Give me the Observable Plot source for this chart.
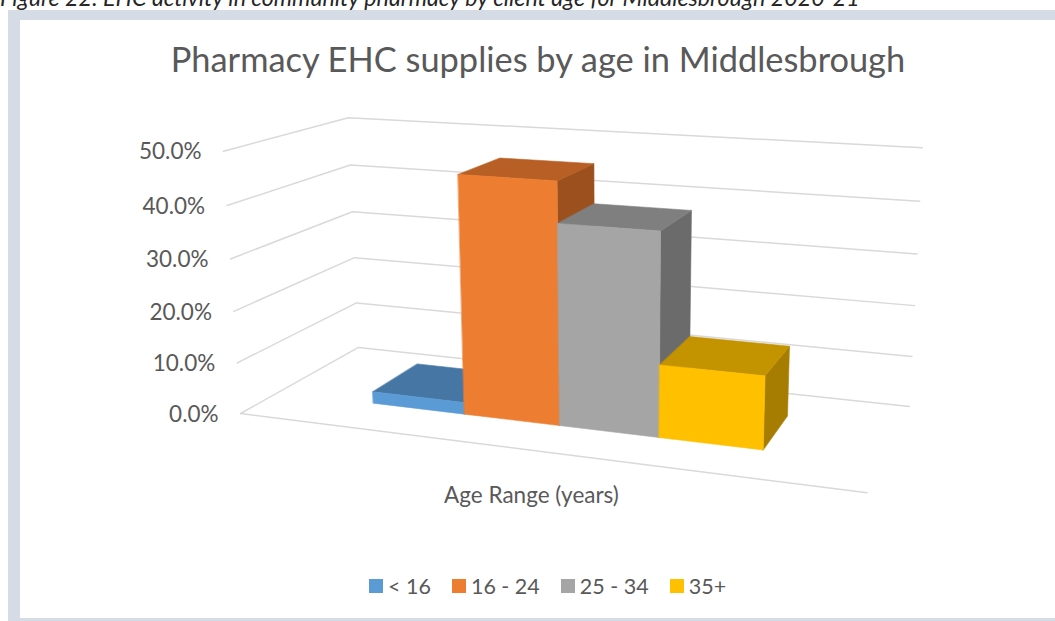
<!DOCTYPE html>
<html>
<head>
<meta charset="utf-8">
<script src="https://cdn.jsdelivr.net/npm/d3@7"></script>
<script src="https://cdn.jsdelivr.net/npm/@observablehq/plot@0.6"></script>
<style>
  body { margin: 0; background: #fff; width: 1055px; height: 621px; overflow: hidden; position: relative; font-family: Lato, "Open Sans", sans-serif; }
  #caption { position: absolute; left: 0; top: -17px; font-style: italic; font-size: 23.2px; line-height: 28px; color: #262626; white-space: nowrap; }
  #frame { position: absolute; left: 8px; top: 10px; width: 1100px; height: 611px; background: #d6dce5; }
  #inner { position: absolute; left: 20px; top: 20px; width: 1100px; height: 598px; background: #fff; }
  #title { position: absolute; left: 20px; width: 1036px; top: 39px; text-align: center; font-size: 34.4px; line-height: 40px; color: #595959; white-space: nowrap; }
  #chart { position: absolute; left: 20px; top: 95px; }
  #legend { position: absolute; left: 369px; top: 572px; height: 28px; display: flex; align-items: center; font-size: 21.5px; color: #595959; white-space: nowrap; }
  .item { display: flex; align-items: center; margin-right: 21px; }
  .sw { width: 14px; height: 14px; margin-right: 5px; }
</style>
</head>
<body>
<div id="caption"></div>
<div id="frame"></div>
<div id="inner"></div>
<div id="title"></div>
<div id="chart"></div>
<div id="legend"></div>
<script>
// ---- data ----
const captionText = "Figure 22: EHC activity in community pharmacy by client age for Middlesbrough 2020-21";
const titleText = "Pharmacy EHC supplies by age in Middlesbrough";
const axisTitle = "Age Range (years)";
const categories = ["< 16", "16 - 24", "25 - 34", "35+"];
const shares = [2.3, 45.8, 38.1, 13.7];           // % of supplies
const tickValues = [0, 10, 20, 30, 40, 50];
const tickLabels = ["0.0%", "10.0%", "20.0%", "30.0%", "40.0%", "50.0%"];

// ---- styles ----
const frontColors = ["#5b9bd5", "#ed7d31", "#a5a5a5", "#ffc000"];
const topColors   = ["#4677a4", "#b75f24", "#7f7f7f", "#c49300"];
const sideColors  = ["#3e6891", "#9c501d", "#6b6b6b", "#a67d00"];

// ---- 3D view (perspective camera) ----
const DEG = Math.PI / 180;
const view = { cx: 618, cy: 276.7, f: 1498, yaw: 19.2 * DEG, pitch: 14.12 * DEG, ox: -2.523, oy: -0.910, oz: 10, unitsPerPct: 1.768 / 50 };
const floorW = 4.195, floorD = 1.613, barW = 0.681, barD = 0.67, barZc = 0.815;
const SW = 1035, SH = 470, L = 20, T = 95;

function project(x, p, z) {
  const y = p * view.unitsPerPct;
  const ca = Math.cos(view.yaw), sa = Math.sin(view.yaw);
  const cb = Math.cos(view.pitch), sb = Math.sin(view.pitch);
  const x1 = x * ca + z * sa, z1 = -x * sa + z * ca;
  const xc = x1 + view.ox;
  const yc = y * cb + z1 * sb + view.oy;
  const zc = -y * sb + z1 * cb + view.oz;
  return [xc / zc, yc / zc];
}

// gridlines on left and back walls + front floor edge
const gridRows = [];
tickValues.forEach(t => {
  [[0, t, 0], [0, t, floorD], [floorW, t, floorD]].forEach(([x, p, z]) => {
    const [px, py] = project(x, p, z);
    gridRows.push({ g: "t" + t, px, py });
  });
});
[[0, 0, 0], [floorW, 0, 0]].forEach(([x, p, z]) => {
  const [px, py] = project(x, p, z);
  gridRows.push({ g: "front", px, py });
});

// bar faces (painter's order: left to right; side, top, front)
const faceRows = [];
const x0All = floorW / 2 - barW * categories.length / 2;
const z0 = barZc - barD / 2, z1 = barZc + barD / 2;
categories.forEach((c, i) => {
  const xa = x0All + i * barW, xb = xa + barW, h = shares[i];
  const faces = [
    ["side", sideColors[i], [[xb, 0, z0], [xb, 0, z1], [xb, h, z1], [xb, h, z0]]],
    ["top", topColors[i], [[xa, h, z0], [xb, h, z0], [xb, h, z1], [xa, h, z1]]],
    ["front", frontColors[i], [[xa, 0, z0], [xb, 0, z0], [xb, h, z0], [xa, h, z0]]]
  ];
  faces.forEach(([name, color, pts]) => {
    pts.forEach(([x, p, z]) => {
      const [px, py] = project(x, p, z);
      faceRows.push({ face: c + "-" + name, color, px, py });
    });
  });
});

const tickRows = tickValues.map((t, i) => {
  const [px, py] = project(0, t, 0);
  return { px, py, label: tickLabels[i] };
});
const [axPx, axPy] = project(floorW / 2, 0, 0);

const chart = Plot.plot({
  width: SW, height: SH, margin: 0,
  x: { type: "linear", domain: [(L - view.cx) / view.f, (L + SW - view.cx) / view.f], range: [0, SW], axis: null },
  y: { type: "linear", domain: [(view.cy - (T + SH)) / view.f, (view.cy - T) / view.f], range: [SH, 0], axis: null },
  style: { background: "transparent", fontFamily: "Lato, 'Open Sans', sans-serif", overflow: "visible" },
  marks: [
    Plot.line(gridRows, { x: "px", y: "py", z: "g", stroke: "#d9d9d9", strokeWidth: 1.5 }),
    Plot.line(faceRows, { x: "px", y: "py", z: "face", fill: "color", stroke: "color", strokeWidth: 0.6, curve: "linear-closed" }),
    Plot.text(tickRows, { x: "px", y: "py", text: "label", textAnchor: "end", dx: -22, dy: 1, fontSize: 22.5, fill: "#595959" }),
    Plot.text([axisTitle], { x: () => axPx, y: () => axPy, text: d => d, dy: 45, fontSize: 22.5, fill: "#595959" })
  ]
});
document.getElementById("chart").appendChild(chart);

document.getElementById("caption").textContent = captionText;
document.getElementById("title").textContent = titleText;
const legend = document.getElementById("legend");
categories.forEach((c, i) => {
  const item = document.createElement("div");
  item.className = "item";
  const sw = document.createElement("div");
  sw.className = "sw";
  sw.style.background = frontColors[i];
  const tx = document.createElement("span");
  tx.textContent = c;
  item.appendChild(sw); item.appendChild(tx);
  legend.appendChild(item);
});
</script>
</body>
</html>
